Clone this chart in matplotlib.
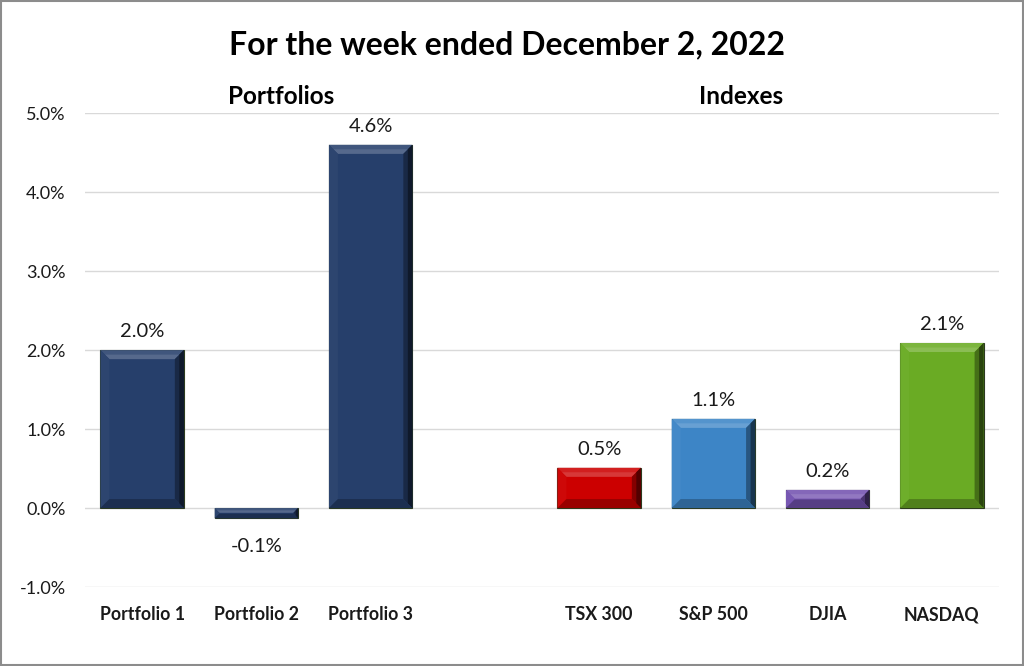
import matplotlib
matplotlib.use("Agg")
import matplotlib.pyplot as plt
from matplotlib.patches import Polygon, Rectangle
from matplotlib.ticker import FuncFormatter
import matplotlib.colors as mcolors

plt.rcParams['font.family'] = ['Lato', 'DejaVu Sans']

# data
categories = ['Portfolio 1', 'Portfolio 2', 'Portfolio 3', 'TSX 300', 'S&P 500', 'DJIA', 'NASDAQ']
values = [2.0, -0.13, 4.6, 0.51, 1.13, 0.23, 2.09]
positions = [0, 1, 2, 4, 5, 6, 7]   # slot 3 left empty between the two groups
bar_colors = ['#263F6B', '#263F6B', '#263F6B', '#CC0000', '#3D85C6', '#7352B0', '#6AAB24']
group_names = ['Portfolios', 'Indexes']
group_centers = [1.22, 5.24]


def shade(c, f):
    r, g, b = mcolors.to_rgb(c)
    if f > 0:
        return (r + (1 - r) * f, g + (1 - g) * f, b + (1 - b) * f)
    return (r * (1 + f), g * (1 + f), b * (1 + f))


fig = plt.figure(figsize=(10.24, 6.66), dpi=100)
ax = fig.add_axes([0.083, 0.1186, 0.8926, 0.7114])
ax.set_xlim(-0.5, 7.5)
ax.set_ylim(-1, 5)

bars = ax.bar(positions, values, width=0.73, color=bar_colors,
              edgecolor='#2B3A1E', linewidth=0.8, zorder=3)

fig.canvas.draw()
to_pix = ax.transData
to_data = ax.transData.inverted()
bev = 9  # bevel size in pixels
for b, col in zip(bars, bar_colors):
    x0, y0 = b.get_x(), min(0, b.get_height())
    x1, y1 = x0 + b.get_width(), max(0, b.get_height())
    (px0, py0), (px1, py1) = to_pix.transform([(x0, y0), (x1, y1)])
    d = min(bev, (py1 - py0) / 2 - 0.5)
    if d < 1.5:
        d = max((py1 - py0) / 2 - 0.3, 0.5)
    outer = [(px0, py0), (px1, py0), (px1, py1), (px0, py1)]
    inner = [(px0 + d, py0 + d), (px1 - d, py0 + d), (px1 - d, py1 - d), (px0 + d, py1 - d)]
    mid = [(px0 + d / 2, py0 + d / 2), (px1 - d / 2, py0 + d / 2),
           (px1 - d / 2, py1 - d / 2), (px0 + d / 2, py1 - d / 2)]
    faces = [
        ([outer[3], outer[2], inner[2], inner[3]], shade(col, 0.12)),   # top
        ([mid[3], mid[2], inner[2], inner[3]], shade(col, 0.22)),
        ([outer[0], outer[3], inner[3], inner[0]], shade(col, 0.03)),   # left
        ([outer[1], outer[2], inner[2], inner[1]], shade(col, -0.35)),  # right
        ([outer[1], outer[2], mid[2], mid[1]], shade(col, -0.6)),
        ([outer[0], outer[1], inner[1], inner[0]], shade(col, -0.25)),  # bottom
    ]
    for pts, fc in faces:
        ax.add_patch(Polygon(to_data.transform(pts), closed=True, facecolor=fc,
                             edgecolor='none', zorder=4))
    lab_y = y1 if b.get_height() >= 0 else y0
    off = 7 if b.get_height() >= 0 else -14
    ax.annotate(f'{b.get_height():.1f}%', (b.get_x() + b.get_width() / 2, lab_y),
                xytext=(0, off), textcoords='offset points', ha='center',
                va='bottom' if off > 0 else 'top', fontsize=14.5, color='#1a1a1a')

ax.yaxis.set_major_formatter(FuncFormatter(lambda v, p: f'{v:.1f}%'))
ax.set_yticks([-1, 0, 1, 2, 3, 4, 5])
ax.grid(axis='y', color='#D9D9D9', linewidth=1, zorder=0)
ax.set_xticks(positions)
ax.set_xticklabels(categories, fontweight='bold', fontsize=12.8)
ax.tick_params(axis='both', length=0, colors='#1a1a1a')
ax.tick_params(axis='y', labelsize=13, pad=14)
ax.tick_params(axis='x', pad=14)
for s in ax.spines.values():
    s.set_visible(False)

for name, cx in zip(group_names, group_centers):
    ax.text(cx, 1.012, name, transform=ax.get_xaxis_transform(), ha='center',
            va='bottom', fontsize=17.5, fontweight='bold')

fig.text(0.495, 0.932, 'For the week ended December 2, 2022', ha='center',
         va='center', fontsize=23, fontweight='bold')

fig.patches.append(Rectangle((0.001, 0.0015), 0.998, 0.997, transform=fig.transFigure,
                             fill=False, edgecolor='#8C8C8C', linewidth=1.5))

fig.savefig('out.png', dpi=100)
